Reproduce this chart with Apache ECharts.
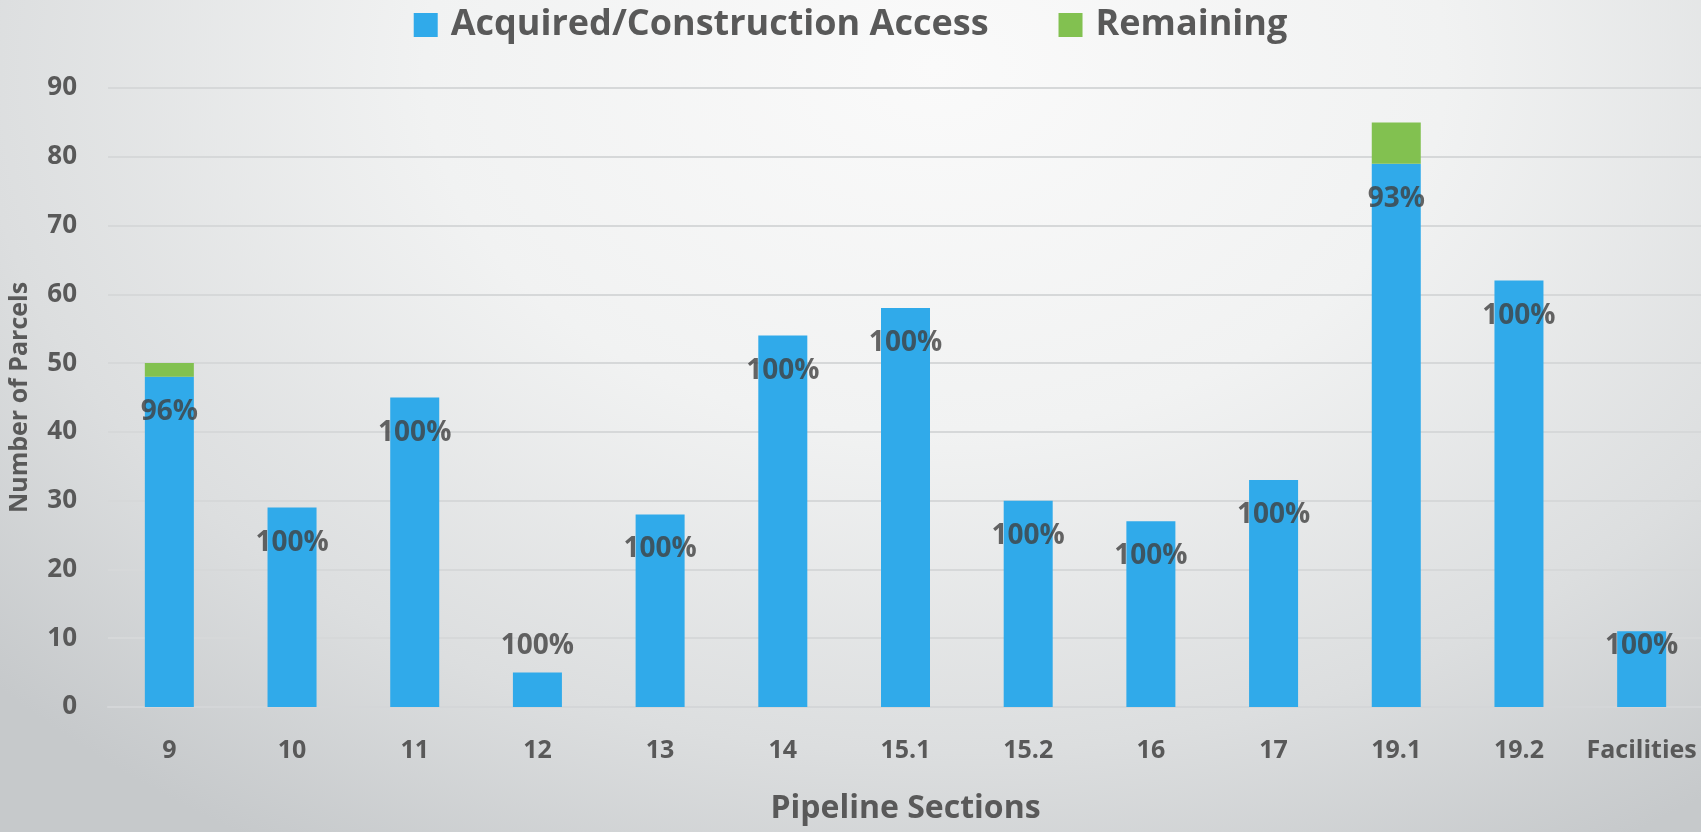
<!DOCTYPE html>
<html>
<head>
<meta charset="utf-8">
<script src="https://cdn.jsdelivr.net/npm/echarts@6/dist/echarts.min.js"></script>
<style>
  html, body { margin: 0; padding: 0; }
  #chart {
    width: 1701px; height: 832px;
    background: radial-gradient(ellipse 75% 110% at 55% 8%, #fafafa 0%, #f1f2f2 40%, #dcdedf 75%, #c6c9cb 100%);
  }
</style>
</head>
<body>
<div id="chart"></div>
<script>
const categories = ['9', '10', '11', '12', '13', '14', '15.1', '15.2', '16', '17', '19.1', '19.2', 'Facilities'];
const acquired = [48, 29, 45, 5, 28, 54, 58, 30, 27, 33, 79, 62, 11];
const remaining = [2, 0, 0, 0, 0, 0, 0, 0, 0, 0, 6, 0, 0];
const pctLabels = ['96%', '100%', '100%', '100%', '100%', '100%', '100%', '100%', '100%', '100%', '93%', '100%', '100%'];
const yTicks = [0, 10, 20, 30, 40, 50, 60, 70, 80, 90];

// label anchor: a little below each bar's top, but never below the bottom band
const labelY = acquired.map(v => Math.max(v - 5.1, 8.9));

const chart = echarts.init(document.getElementById('chart'), null, { renderer: 'canvas' });
const font = 'Open Sans';
chart.setOption({
  backgroundColor: 'transparent',
  animation: false,
  textStyle: { fontFamily: font },
  legend: {
    top: 2,
    left: 'center',
    itemWidth: 24,
    itemHeight: 24,
    itemGap: 70,
    icon: 'rect',
    data: ['Acquired/Construction Access', 'Remaining'],
    textStyle: { fontSize: 36, color: '#595959', fontFamily: font, fontWeight: 'bold', padding: [0, 0, 0, 8] }
  },
  grid: { left: 108, right: -2, top: 88, bottom: 125, containLabel: false, outerBoundsMode: 'none' },
  xAxis: {
    type: 'category',
    data: categories,
    name: 'Pipeline Sections',
    nameLocation: 'middle',
    nameGap: 86,
    nameTextStyle: { fontSize: 32, fontWeight: 'bold', color: '#595959', fontFamily: font },
    axisLine: { show: true, lineStyle: { color: '#d4d6d8', width: 2 } },
    axisTick: { show: false },
    axisLabel: { interval: 0, fontSize: 25, fontWeight: 'bold', color: '#595959', margin: 31, fontFamily: font }
  },
  yAxis: {
    type: 'value',
    min: yTicks[0],
    max: yTicks[yTicks.length - 1],
    interval: 10,
    name: 'Number of Parcels',
    nameLocation: 'middle',
    nameRotate: 90,
    nameGap: 76,
    nameTextStyle: { fontSize: 25, fontWeight: 'bold', color: '#595959', fontFamily: font },
    axisLine: { show: false },
    axisTick: { show: false },
    splitLine: { lineStyle: { color: '#d6d8d9', width: 2 } },
    axisLabel: { fontSize: 26, fontWeight: 'bold', color: '#595959', margin: 31, fontFamily: font }
  },
  series: [
    {
      name: 'Acquired/Construction Access',
      type: 'bar',
      stack: 'total',
      data: acquired,
      barWidth: 49,
      itemStyle: { color: '#30aaea' }
    },
    {
      name: 'Remaining',
      type: 'bar',
      stack: 'total',
      data: remaining,
      barWidth: 49,
      itemStyle: { color: '#82c150' }
    },
    {
      name: 'labels',
      type: 'scatter',
      data: labelY,
      symbolSize: 1,
      itemStyle: { color: 'rgba(0,0,0,0)' },
      silent: true,
      z: 10,
      label: {
        show: true,
        position: 'inside',
        formatter: p => pctLabels[p.dataIndex],
        fontSize: 28,
        fontWeight: 'bold',
        color: '#404040',
        fontFamily: font
      }
    }
  ]
});
</script>
</body>
</html>
